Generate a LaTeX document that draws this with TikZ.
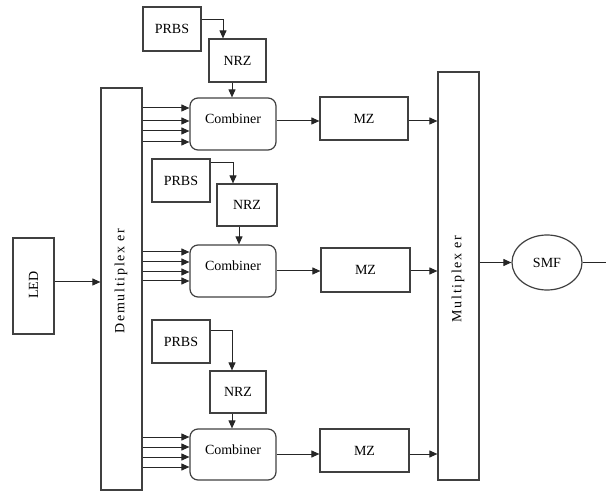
\documentclass[tikz,border=0pt]{standalone}
\usepackage{fontspec}
\setmainfont{Liberation Serif}
\usetikzlibrary{arrows.meta,shapes.geometric}
\begin{document}
\begin{tikzpicture}[x=1pt,y=-1pt,
  font=\fontsize{14}{16}\selectfont,
  box/.style={draw=black!75, line width=1.2pt, rectangle, inner sep=0pt},
  combbox/.style={box, rounded corners=8pt, minimum width=86pt, minimum height=52pt, text height=10pt, text depth=10pt},
  arr/.style={draw=black!85, line width=1pt, -{Triangle[length=8pt,width=7pt]}},
  ln/.style={draw=black!85, line width=1pt},
  spaced/.style={font=\fontsize{14}{16}\selectfont\addfontfeature{LetterSpace=12}}
]
\useasboundingbox (0,0) rectangle (606,492);

% left side
\node[box, minimum width=41pt, minimum height=96pt] (led) at (33.5,286) {};
\node[rotate=90] (ledlabel) at (33.5,285) {LED};
\node[box, minimum width=41pt, minimum height=402pt] (demux) at (121.5,289) {};
\node[rotate=90, spaced] (demuxlabel) at (121,281) {Demultiplex er};
\node[box, minimum width=41pt, minimum height=408pt] (mux) at (458.5,276) {};
\node[rotate=90, spaced] (muxlabel) at (458,279) {Multiplex er};
\node[draw=black!75, line width=1.2pt, ellipse, minimum width=70pt, minimum height=55pt, inner sep=0pt] (smf) at (547,262.5) {SMF};
\coordinate (fiberend) at (606,262.5);

% branch 1
\node[box, minimum width=58pt, minimum height=44pt] (prbs1) at (172,29) {PRBS};
\node[box, minimum width=57pt, minimum height=43pt] (nrz1) at (237.5,60.5) {NRZ};
\node[combbox] (comb1) at (233,124) {Combiner};
\node[box, minimum width=88pt, minimum height=43pt] (mz1) at (364,118.5) {MZ};
\coordinate (y1) at (0,121);

% branch 2
\node[box, minimum width=58pt, minimum height=43pt] (prbs2) at (181,180.5) {PRBS};
\node[box, minimum width=60pt, minimum height=42pt] (nrz2) at (247,205) {NRZ};
\node[combbox] (comb2) at (233,271) {Combiner};
\node[box, minimum width=89pt, minimum height=44pt] (mz2) at (365.5,270) {MZ};
\coordinate (y2) at (0,271);

% branch 3
\node[box, minimum width=58pt, minimum height=43pt] (prbs3) at (181,341.5) {PRBS};
\node[box, minimum width=56pt, minimum height=42pt] (nrz3) at (238,392) {NRZ};
\node[combbox, minimum height=51pt] (comb3) at (233,454.5) {Combiner};
\node[box, minimum width=89pt, minimum height=43pt] (mz3) at (364.5,450.5) {MZ};
\coordinate (y3) at (0,454);

% LED -> demux
\coordinate (yled) at (0,282);
\draw[arr] (led.east |- yled) -- (demux.west |- yled);

% PRBS -> NRZ -> Combiner
\draw[arr] ([yshift=-13pt]prbs1.north east) -| ([xshift=-14.5pt]nrz1.north);
\draw[arr] ([xshift=-5.5pt]nrz1.south) -- ([xshift=-1pt]comb1.north);
\draw[arr] ([yshift=-4pt]prbs2.north east) -| ([xshift=-14pt]nrz2.north);
\draw[arr] ([xshift=-8pt]nrz2.south) -- ([xshift=6pt]comb2.north);
\draw[arr] ([yshift=-11pt]prbs3.north east) -| ([xshift=-6pt]nrz3.north);
\draw[arr] ([xshift=-6pt]nrz3.south) -- ([xshift=-1pt]comb3.north);

% demux -> combiners
\foreach \d in {16,3,-7,-18} {
  \path ([yshift=\d pt]comb1.west) coordinate (t);
  \draw[arr] (demux.east |- t) -- (t);
}
\foreach \d in {19,9,-1,-10} {
  \path ([yshift=\d pt]comb2.west) coordinate (t);
  \draw[arr] (demux.east |- t) -- (t);
}
\foreach \d in {17.5,7.5,-2.5,-12.5} {
  \path ([yshift=\d pt]comb3.west) coordinate (t);
  \draw[arr] (demux.east |- t) -- (t);
}

% combiner -> MZ -> mux
\draw[arr] (comb1.east |- y1) -- (mz1.west |- y1);
\draw[arr] (mz1.east |- y1) -- (mux.west |- y1);
\draw[arr] (comb2.east |- y2) -- (mz2.west |- y2);
\draw[arr] (mz2.east |- y2) -- (mux.west |- y2);
\draw[arr] (comb3.east |- y3) -- (mz3.west |- y3);
\draw[arr] (mz3.east |- y3) -- (mux.west |- y3);

% mux -> SMF -> out
\draw[arr] (mux.east |- smf.west) -- (smf.west);
\draw[ln] (smf.east) -- (fiberend);
\end{tikzpicture}
\end{document}
